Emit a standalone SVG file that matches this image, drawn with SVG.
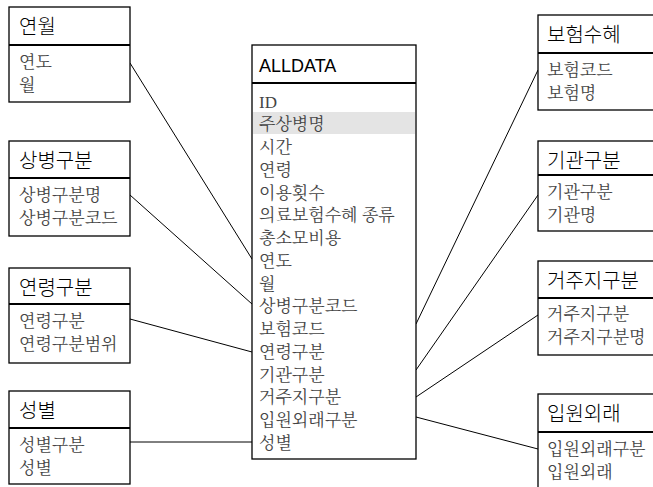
<svg xmlns="http://www.w3.org/2000/svg" width="653" height="487" viewBox="0 0 653 487">
<style>
.box{fill:#fff;stroke:#000;stroke-width:1.3}
.sep{stroke:#000;stroke-width:2}
.hd{font-family:"Noto Sans CJK KR","Liberation Sans",sans-serif;font-size:20px;font-weight:300;fill:#000}
.al{font-family:"Liberation Sans","Noto Sans CJK KR",sans-serif;font-size:18px;fill:#000}
.bd{font-family:"Noto Serif CJK KR","Noto Sans CJK KR","Liberation Serif",serif;font-size:17px;fill:#444}
.cn{stroke:#000;stroke-width:1;fill:none}
</style>
<rect width="653" height="487" fill="#fff"/>
<g id="connectors">
<line class="cn" x1="130" y1="63" x2="252" y2="259"/>
<line class="cn" x1="130" y1="195" x2="252" y2="304"/>
<line class="cn" x1="130" y1="319" x2="252" y2="352"/>
<line class="cn" x1="130" y1="442" x2="252" y2="442"/>
<line class="cn" x1="538" y1="70" x2="416" y2="324"/>
<line class="cn" x1="538" y1="195" x2="416" y2="370"/>
<line class="cn" x1="538" y1="315" x2="416" y2="397"/>
<line class="cn" x1="538" y1="449" x2="416" y2="417"/>
</g>
<g id="alldata">
<rect class="box" x="252" y="45" width="164" height="414"/>
<line class="sep" x1="252" y1="83" x2="416" y2="83"/>
<rect x="253" y="112" width="162" height="22" fill="#e4e4e4"/>
<text class="al" x="259" y="72">ALLDATA</text>
<g class="bd">
<text x="259" y="107.5" font-family="Liberation Serif,serif">ID</text>
<text x="259" y="130.3">주상병명</text>
<text x="259" y="153">시간</text>
<text x="259" y="175.8">연령</text>
<text x="259" y="198.5">이용횟수</text>
<text x="259" y="221.3">의료보험수혜 종류</text>
<text x="259" y="244">총소모비용</text>
<text x="259" y="266.8">연도</text>
<text x="259" y="289.5">월</text>
<text x="259" y="312.3">상병구분코드</text>
<text x="259" y="335">보험코드</text>
<text x="259" y="357.8">연령구분</text>
<text x="259" y="380.5">기관구분</text>
<text x="259" y="403.3">거주지구분</text>
<text x="259" y="426">입원외래구분</text>
<text x="259" y="448.8">성별</text>
</g>
</g>
<g id="yeonwol">
<rect class="box" x="9" y="7" width="121" height="95"/>
<line class="sep" x1="9" y1="45" x2="130" y2="45"/>
<text class="hd" x="19" y="34">연월</text>
<text class="bd" x="19" y="67.5">연도</text>
<text class="bd" x="19" y="90.5">월</text>
</g>
<g id="sangbyeong">
<rect class="box" x="9" y="141" width="121" height="95"/>
<line class="sep" x1="9" y1="178" x2="130" y2="178"/>
<text class="hd" x="19" y="168">상병구분</text>
<text class="bd" x="19" y="200.5">상병구분명</text>
<text class="bd" x="19" y="223.5">상병구분코드</text>
</g>
<g id="yeonryeong">
<rect class="box" x="9" y="268" width="121" height="95"/>
<line class="sep" x1="9" y1="304" x2="130" y2="304"/>
<text class="hd" x="19" y="295">연령구분</text>
<text class="bd" x="19" y="326.5">연령구분</text>
<text class="bd" x="19" y="349.5">연령구분범위</text>
</g>
<g id="seongbyeol">
<rect class="box" x="9" y="391" width="121" height="93"/>
<line class="sep" x1="9" y1="428" x2="130" y2="428"/>
<text class="hd" x="19" y="418">성별</text>
<text class="bd" x="19" y="450.5">성별구분</text>
<text class="bd" x="19" y="473.5">성별</text>
</g>
<g id="boheom">
<rect class="box" x="538" y="15" width="125" height="95"/>
<line class="sep" x1="538" y1="53" x2="663" y2="53"/>
<text class="hd" x="547" y="42">보험수혜</text>
<text class="bd" x="547" y="75.5">보험코드</text>
<text class="bd" x="547" y="98.5">보험명</text>
</g>
<g id="gigwan">
<rect class="box" x="538" y="141" width="125" height="90"/>
<line class="sep" x1="538" y1="175" x2="663" y2="175"/>
<text class="hd" x="547" y="168">기관구분</text>
<text class="bd" x="547" y="198">기관구분</text>
<text class="bd" x="547" y="221">기관명</text>
</g>
<g id="geoju">
<rect class="box" x="538" y="261" width="125" height="94"/>
<line class="sep" x1="538" y1="298" x2="663" y2="298"/>
<text class="hd" x="547" y="288">거주지구분</text>
<text class="bd" x="547" y="319.5">거주지구분</text>
<text class="bd" x="547" y="342.5">거주지구분명</text>
</g>
<g id="ipwon">
<rect class="box" x="538" y="394" width="125" height="100"/>
<line class="sep" x1="538" y1="432" x2="663" y2="432"/>
<text class="hd" x="547" y="421">입원외래</text>
<text class="bd" x="547" y="454.5">입원외래구분</text>
<text class="bd" x="547" y="477.5">입원외래</text>
</g>
</svg>
